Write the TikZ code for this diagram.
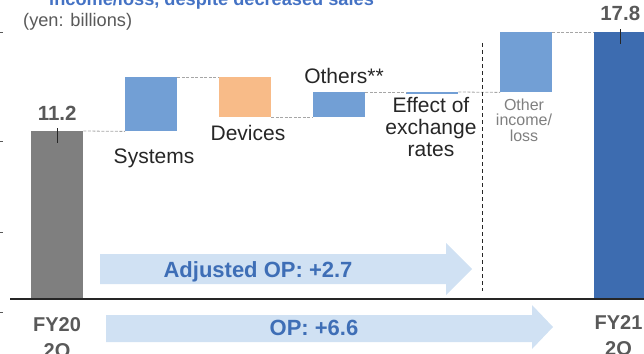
\documentclass[tikz,border=0pt]{standalone}
\usepackage{fontspec}
\setmainfont{Liberation Sans}
\usetikzlibrary{positioning}

\definecolor{bargray}{HTML}{7F7F7F}
\definecolor{barblue}{HTML}{729FD5}
\definecolor{barorange}{HTML}{F8BB88}
\definecolor{bardark}{HTML}{3D6CB0}
\definecolor{arrowfill}{HTML}{D0E1F3}
\definecolor{optext}{HTML}{3E6EB6}
\definecolor{titleblue}{HTML}{4472C4}
\definecolor{textdark}{HTML}{262626}
\definecolor{textgray}{HTML}{595959}
\definecolor{linkgray}{HTML}{A6A6A6}

\tikzset{
  bar/.style={inner sep=0pt, anchor=north west, minimum width=52pt},
  link/.style={draw=linkgray, line width=0.8pt, dash pattern=on 3pt off 1.5pt},
  valtick/.style={draw=textdark, line width=0.8pt},
  val/.style={font=\bfseries\fontsize{20.5}{22}\selectfont, text=textgray, inner sep=0pt},
  lbl/.style={font=\fontsize{21}{21.7}\selectfont, text=textdark, inner sep=0pt, align=center},
  smalllbl/.style={font=\fontsize{16}{15.5}\selectfont, text=bargray, inner sep=0pt, align=center},
  axlbl/.style={font=\bfseries\fontsize{20}{26}\selectfont, text=textgray, inner sep=0pt, align=center, anchor=north},
  optxt/.style={font=\bfseries\fontsize{22}{22}\selectfont, text=optext, inner sep=0pt},
  oparrow/.style={fill=arrowfill}
}

\begin{document}
\begin{tikzpicture}[x=1pt,y=-1pt]
\clip (0,0) rectangle (644,353);

% title and unit
\node[font=\bfseries\fontsize{18.2}{20}\selectfont, text=titleblue, inner sep=0pt, anchor=base west] (title) at (49,6) {income/loss, despite decreased sales};
\node[font=\fontsize{18.2}{20}\selectfont, text=textgray, inner sep=0pt, anchor=west] (unit) at (23,22) {(yen: billions)};

% left axis ticks
\foreach \t in {32,141,232,312} {
    \draw[textgray, line width=0.6pt] (0,\t) -- (3,\t);
}

% arrows
\fill[oparrow] (100,254) -- (446,254) -- (446,243) -- (472,269) -- (446,295) -- (446,284) -- (100,284) -- cycle;
\fill[oparrow] (106,315) -- (532,315) -- (532,305) -- (553,327) -- (532,349) -- (532,342) -- (106,342) -- cycle;
\node[optxt] (adjop) at (258,272) {Adjusted OP: +2.7};
\node[optxt] (op) at (314,328) {OP: +6.6};

% bars
\foreach \n/\x/\y/\h/\c in {fy20/31/131/168/bargray, sys/125/77/54/barblue, dev/219/77/40/barorange,
    oth/313/92/25/barblue, fx/406/92/1.5/barblue, inc/500/32/60/barblue, fy21/594/32/267/bardark} {
    \node[bar, fill=\c, minimum height=\h pt] (\n) at (\x,\y) {};
}

% dashed links
\foreach \a/\b in {fy20.north east/sys.south west, sys.north east/dev.north west, dev.south east/oth.south west,
    oth.north east/fx.north west, fx.north east/inc.south west, inc.north east/fy21.north west} {
    \draw[link] (\a) -- (\b);
}

% values
\draw[valtick] ([yshift=3pt]fy20.north) -- ([yshift=-12pt]fy20.north);
\draw[valtick] ([yshift=3pt]fy21.north) -- ([yshift=-12pt]fy21.north);
\node[val, anchor=base] (v20) at ([yshift=11pt]fy20.north) {11.2};
\node[val, anchor=base] (v21) at ([yshift=11pt]fy21.north) {17.8};

% labels
\node[lbl, anchor=base] (lsys) at (154,163) {Systems};
\node[lbl, anchor=base] (ldev) at (248,140.5) {Devices};
\node[lbl, anchor=base] (loth) at (344,83.3) {Others**};
\node[lbl, anchor=north] (lfx) at (431,97.5) {Effect of\\exchange\\rates};
\node[smalllbl, anchor=north] (linc) at (524,98.5) {Other\\income/\\loss};

% separator
\coordinate (septop) at (482.5,43);
\coordinate (sepbot) at (482.5,291);
\draw[textdark, line width=1pt, dash pattern=on 4pt off 3pt] (septop) -- (sepbot);

% base line
\coordinate (axl) at (10,299);
\coordinate (axr) at (644,299);
\draw[textdark, line width=2.2pt] (axl) -- (axr);

% period labels
\node[axlbl] (p20) at (57,317) {FY20\\2Q};
\node[axlbl] (p21) at (618.5,315.5) {FY21\\2Q};
\end{tikzpicture}
\end{document}
